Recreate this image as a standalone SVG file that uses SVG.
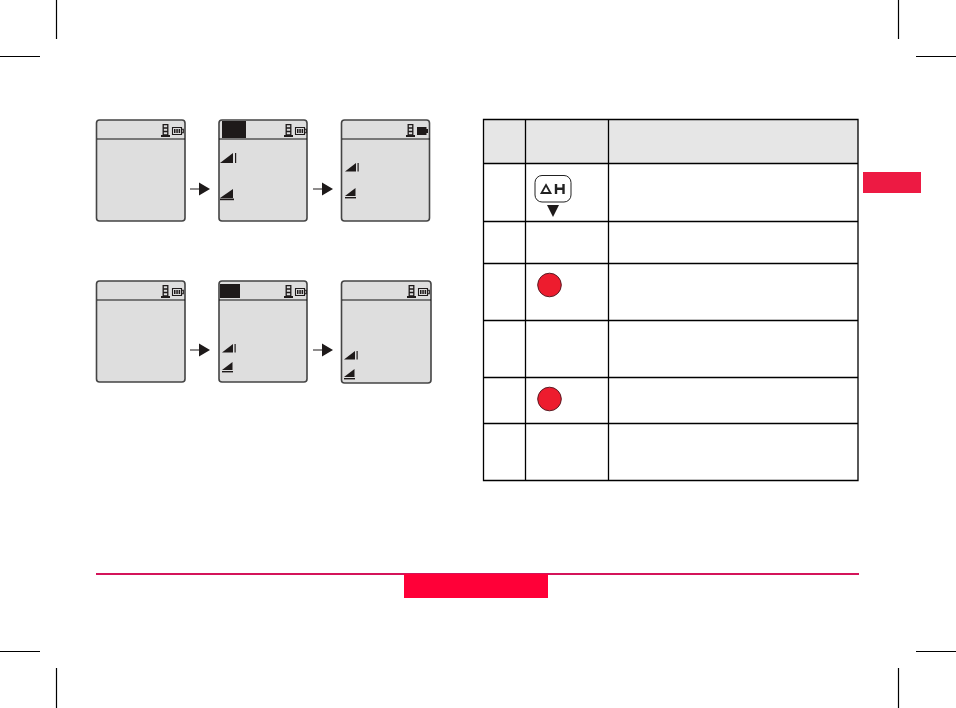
<svg xmlns="http://www.w3.org/2000/svg" width="956" height="708" viewBox="0 0 956 708">
<style>
.crop{stroke:#000;stroke-width:1.2;fill:none}
.scr{fill:#dedede;stroke:#444;stroke-width:1.6}
.hl{stroke:#111;stroke-width:1.1;fill:none}
.ink{fill:#1e1a1a}
.thin{stroke:#1e1a1a;fill:none}
.tb{stroke:#000;stroke-width:1.3;fill:none}
.btn{fill:#ed1c2e;stroke:#5a1a22;stroke-width:1}
</style>
<defs>
<g id="tower">
<path class="thin" stroke-width="1.3" d="M2.2 0.7H6.8V11H2.2ZM2.2 4H6.8M2.2 7.5H6.8"/>
<rect class="ink" x="0" y="11" width="9" height="2"/>
</g>
<g id="batt">
<path class="thin" stroke-width="1.1" d="M0.5 0.5H9.5V7.5H0.5ZM9.5 2.2H11.3V5.8H9.5"/>
<rect class="ink" x="2" y="2" width="1.5" height="4"/><rect class="ink" x="4.3" y="2" width="1.5" height="4"/><rect class="ink" x="6.6" y="2" width="1.5" height="4"/>
</g>
<g id="battfull">
<path class="ink" d="M0 0H9.5V2H11V6H9.5V8H0Z"/>
</g>
<g id="up2"><path class="ink" d="M0 10L13 0V10Z"/><rect class="ink" x="15" y="0" width="1.2" height="10"/></g>
<g id="up"><path class="ink" d="M0 8.5L11 0V8.5Z"/><rect class="ink" x="12.5" y="0" width="1.2" height="8.5"/></g>
<g id="dn2"><path class="ink" d="M0 9L13 0V9Z"/><rect class="ink" x="0" y="9.5" width="14" height="1.7"/></g>
<g id="dn"><path class="ink" d="M0 8L10.5 0V8Z"/><rect class="ink" x="0" y="9" width="11" height="1.4"/></g>
<path id="arr" class="ink" d="M0 -0.6H9V-6.5L20 0L9 6.5V0.6H0Z"/>
</defs>
<g id="crop-marks">
<path class="crop" d="M56.5 0V39M0 56.5H40M898.5 0V39M916 56.5H956M0 651.5H40M56.5 668V708M916 651.5H956M898.5 668V708"/>
</g>
<g id="side-tab"><rect x="863" y="172" width="58" height="21" fill="#ed1a43"/></g>
<g id="footer">
<rect x="96" y="573" width="763" height="2" fill="#d4145a"/>
<rect x="404" y="574" width="144" height="24" fill="#ff0038"/>
</g>
<g id="screen-1">
<rect class="scr" x="96.5" y="120" width="88.5" height="101" rx="3"/>
<path class="hl" d="M97 139H185"/>
<use href="#tower" x="161" y="124"/><use href="#batt" x="172" y="127"/>
</g>
<g id="screen-2">
<rect class="scr" x="219" y="120" width="88" height="101" rx="3"/>
<path class="hl" d="M219 139H307"/>
<rect class="ink" x="222" y="121" width="24" height="17"/>
<use href="#tower" x="284" y="124"/><use href="#batt" x="295" y="127"/>
<use href="#up2" x="220" y="153"/><use href="#dn2" x="220" y="189"/>
</g>
<g id="screen-3">
<rect class="scr" x="341.5" y="120" width="88" height="101" rx="3"/>
<path class="hl" d="M342 139H430"/>
<use href="#tower" x="406" y="124"/><use href="#battfull" x="417" y="127"/>
<use href="#up" x="345" y="163"/><use href="#dn" x="345" y="188"/>
</g>
<g id="screen-4">
<rect class="scr" x="96.5" y="281" width="88.5" height="101" rx="3"/>
<path class="hl" d="M97 300H185"/>
<use href="#tower" x="161" y="285"/><use href="#batt" x="172" y="288"/>
</g>
<g id="screen-5">
<rect class="scr" x="219" y="281" width="88" height="101" rx="3"/>
<path class="hl" d="M219 300H307"/>
<rect class="ink" x="220" y="284" width="20" height="14"/>
<use href="#tower" x="284" y="285"/><use href="#batt" x="295" y="288"/>
<use href="#up" x="222" y="344"/><use href="#dn" x="222" y="362"/>
</g>
<g id="screen-6">
<rect class="scr" x="341.5" y="281" width="89.5" height="102" rx="3"/>
<path class="hl" d="M342 300H431"/>
<use href="#tower" x="407" y="285"/><use href="#batt" x="418" y="288"/>
<use href="#up" x="344" y="351"/><use href="#dn" x="344" y="369"/>
</g>
<g id="connectors">
<use href="#arr" x="190" y="189"/><use href="#arr" x="313" y="189"/>
<use href="#arr" x="190" y="350"/><use href="#arr" x="313" y="350"/>
</g>
<g id="table">
<rect x="483.5" y="119.5" width="374.5" height="44" fill="#e6e6e6"/>
<path class="tb" d="M483.5 119.5H858V480.5H483.5ZM525.5 119.5V480.5M608.5 119.5V480.5M483.5 163.5H858M483.5 221.5H858M483.5 263.5H858M483.5 320.5H858M483.5 377.5H858M483.5 423.5H858"/>
</g>
<g id="key-delta-h">
<rect x="535" y="175.5" width="36" height="26.5" rx="7" fill="#fff" stroke="#222" stroke-width="1"/>
<path d="M546 185L550.5 193H541.5Z" fill="none" stroke="#222" stroke-width="1.8"/>
<path d="M556 184V194M563.5 184V194M556 188.8H563.5" fill="none" stroke="#222" stroke-width="2.4"/>
<path class="ink" d="M547 205H559L553 217Z"/>
</g>
<g id="button-1"><circle class="btn" cx="549.5" cy="285" r="11.8"/></g>
<g id="button-2"><circle class="btn" cx="549.5" cy="399" r="11.8"/></g>
</svg>
